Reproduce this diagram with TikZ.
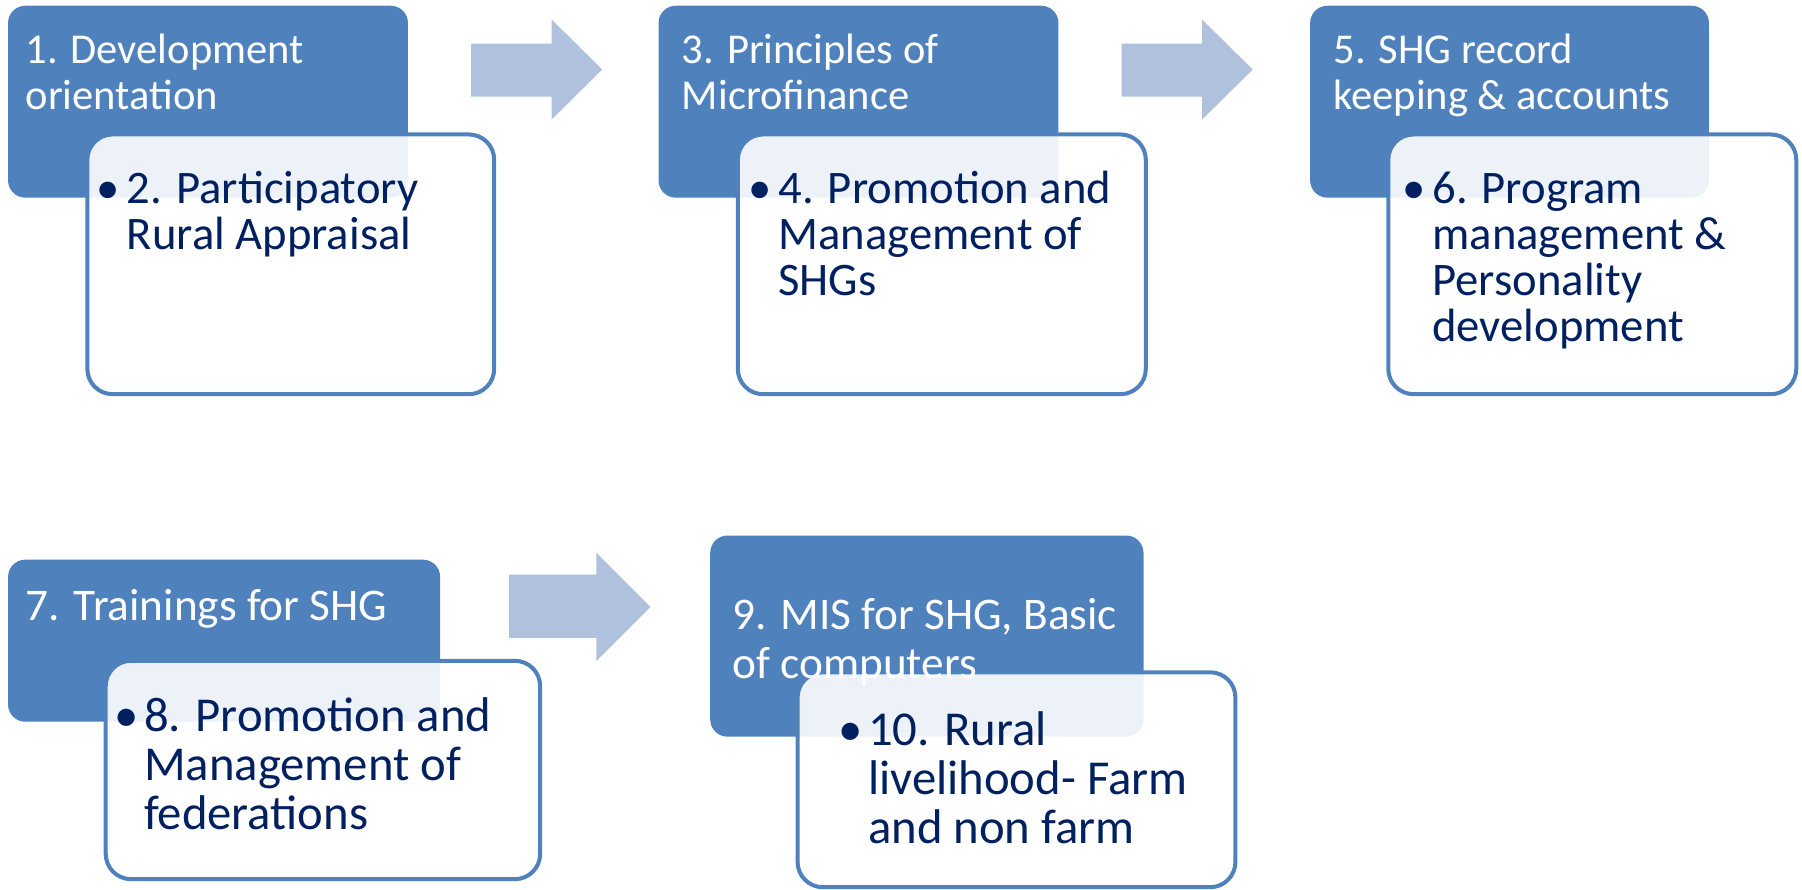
\documentclass[tikz,border=0pt]{standalone}
\usepackage{fontspec}
\setmainfont{Carlito}
\definecolor{boxblue}{HTML}{4F81BD}
\definecolor{arrowblue}{HTML}{B0C1DD}
\definecolor{navy}{HTML}{002060}
\begin{document}
\begin{tikzpicture}[x=0.5pt,y=-0.5pt,
  bluebox/.style={draw=none, fill=boxblue, rounded corners=7.5pt, inner sep=0pt},
  whitebox/.style={draw=boxblue, line width=1.75pt, fill=white, fill opacity=0.9, rounded corners=11pt, inner sep=0pt},
  flowarrow/.style={fill=arrowblue, draw=none},
  toptitle/.style={anchor=base west, align=left, inner sep=0pt, text=white, font=\fontsize{18.5}{20}\selectfont},
  topitem/.style={anchor=base west, align=left, inner sep=0pt, text=navy, font=\fontsize{20.3}{20}\selectfont},
  bottitle/.style={anchor=base west, align=left, inner sep=0pt, text=white, font=\fontsize{19.7}{21}\selectfont},
  botitem/.style={anchor=base west, align=left, inner sep=0pt, text=navy, font=\fontsize{21.2}{21.3}\selectfont}
]
\useasboundingbox (0,0) rectangle (1568,774);
\newcommand{\bul}{\makebox[13pt][l]{•}}
\newcommand{\ind}{\hspace*{13pt}}

% top row
\node[bluebox, minimum width=174pt, minimum height=83.5pt] (b1) at (181,88.5) {};
\node[whitebox, minimum width=177pt, minimum height=113pt] (w2) at (253,230) {};
\node[bluebox, minimum width=174pt, minimum height=83.5pt] (b3) at (747,88.5) {};
\node[whitebox, minimum width=177.5pt, minimum height=113pt] (w4) at (819.5,230) {};
\node[bluebox, minimum width=173.5pt, minimum height=83.5pt] (b5) at (1313.5,88.5) {};
\node[whitebox, minimum width=177.5pt, minimum height=113pt] (w6) at (1385.5,230) {};

% (anchor base = baseline of the last line)
\node[toptitle] (t1) at (22,95) {1. Development\\orientation};
\node[topitem] (t2) at (84,217) {\bul2. Participatory\\\ind Rural Appraisal};
\node[toptitle] (t3) at (593,95) {3. Principles of\\Microfinance};
\node[topitem] (t4) at (651,257) {\bul4. Promotion and\\\ind Management of\\\ind SHGs};
\node[toptitle] (t5) at (1160,95) {5. SHG record\\keeping \& accounts};
\node[topitem] (t6) at (1220,297) {\bul6. Program\\\ind management \&\\\ind Personality\\\ind development};

% bottom row
\node[bluebox, minimum width=188pt, minimum height=70.5pt] (b7) at (195,557.5) {};
\node[whitebox, minimum width=189pt, minimum height=95pt] (w8) at (281,670) {};
\node[bluebox, minimum width=188.5pt, minimum height=87.5pt] (b9) at (806.5,553.5) {};
\node[whitebox, minimum width=190.5pt, minimum height=93.5pt] (w10) at (884.5,678.5) {};

\node[bottitle] (t7) at (22,540) {7. Trainings for SHG};
\node[botitem] (t8) at (99,722) {\bul8. Promotion and\\\ind Management of\\\ind federations};
\node[bottitle] (t9) at (637,590) {9. MIS for SHG, Basic\\of computers};
\node[botitem] (t10) at (729,734) {\bul10. Rural\\\ind livelihood- Farm\\\ind and non farm};

% arrows
\fill[flowarrow] (410,38) -- (480,38) -- (480,17) -- (524,60.5) -- (480,104) -- (480,84) -- (410,84) -- cycle;
\fill[flowarrow] (976,38) -- (1046,38) -- (1046,17) -- (1090,60.5) -- (1046,104) -- (1046,84) -- (976,84) -- cycle;
\fill[flowarrow] (443,500) -- (519,500) -- (519,481) -- (566,528) -- (519,575) -- (519,555) -- (443,555) -- cycle;
\end{tikzpicture}
\end{document}
